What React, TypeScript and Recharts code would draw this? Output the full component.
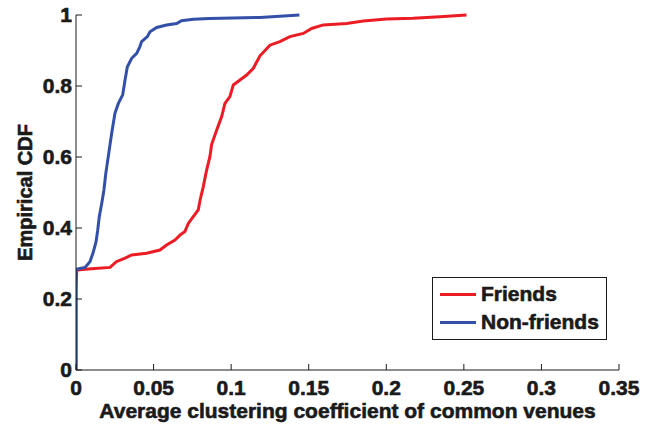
import { LineChart, Line, XAxis, YAxis, Legend } from "recharts";

// empirical CDF of the average clustering coefficient of common venues
const friendsCc = [
  0, 0, 0.0005, 0.01, 0.022, 0.026, 0.0316, 0.0359, 0.0455, 0.0541, 0.0584, 0.0638, 0.067,
  0.0702, 0.0724, 0.0756, 0.0788, 0.08, 0.082, 0.0842, 0.0863, 0.0874, 0.0907, 0.0939, 0.096,
  0.0992, 0.1014, 0.1057, 0.11, 0.1143, 0.1186, 0.125, 0.1314, 0.1379, 0.1465, 0.1519, 0.1594,
  0.1744, 0.1852, 0.2002, 0.2173, 0.2345, 0.2517,
];
const friendsCdf = [
  0, 0.23, 0.282, 0.285, 0.289, 0.305, 0.315, 0.324, 0.329, 0.338, 0.352, 0.366, 0.38,
  0.39, 0.413, 0.432, 0.451, 0.479, 0.516, 0.563, 0.601, 0.635, 0.676, 0.714, 0.751,
  0.77, 0.803, 0.817, 0.831, 0.85, 0.885, 0.915, 0.925, 0.939, 0.948, 0.962, 0.972,
  0.976, 0.983, 0.989, 0.991, 0.995, 1.0,
];

const nonFriendsCc = [
  0, 0, 0.0004, 0.0058, 0.009, 0.011, 0.0129, 0.014, 0.015, 0.0166, 0.018, 0.0192, 0.0208,
  0.023, 0.0251, 0.0273, 0.0301, 0.0316, 0.0331, 0.0359, 0.0391, 0.0412, 0.0423, 0.046, 0.0477,
  0.052, 0.0584, 0.0649, 0.068, 0.0756, 0.086, 0.1186, 0.144,
];
const nonFriendsCdf = [
  0, 0.28, 0.284, 0.289, 0.305, 0.33, 0.361, 0.394, 0.432, 0.47, 0.507, 0.554, 0.601,
  0.667, 0.723, 0.751, 0.775, 0.817, 0.854, 0.878, 0.892, 0.911, 0.925, 0.939, 0.953,
  0.965, 0.972, 0.976, 0.984, 0.988, 0.99, 0.993, 1.0,
];

const xTicks = [0, 0.05, 0.1, 0.15, 0.2, 0.25, 0.3, 0.35];
const yTicks = [0, 0.2, 0.4, 0.6, 0.8, 1];

const friends = friendsCc.map((x, i) => ({ x, y: friendsCdf[i] }));
const nonFriends = nonFriendsCc.map((x, i) => ({ x, y: nonFriendsCdf[i] }));

const FONT = "Liberation Sans";
const INK = "#1a1a1a";
const TICK = 6;

// bold text with a thin outline so it reads as heavy as the print version
const textStyle = {
  fontFamily: FONT,
  fontSize: 21,
  fontWeight: 700,
  fill: INK,
  stroke: INK,
  strokeWidth: 0.6,
};

const BottomTick = ({ x, y, payload }: any) => (
  <g>
    <line x1={x} x2={x} y1={y} y2={y - TICK} stroke={INK} />
    <text x={x} y={y + 25} textAnchor="middle" style={textStyle}>
      {String(payload.value)}
    </text>
  </g>
);

const TopTick = ({ x, y }: any) => <line x1={x} x2={x} y1={y} y2={y + TICK} stroke={INK} />;

const LeftTick = ({ x, y, payload }: any) => (
  <g>
    <line x1={x} x2={x + TICK} y1={y} y2={y} stroke={INK} />
    <text x={x - 4} y={y + 7} textAnchor="end" style={textStyle}>
      {String(payload.value)}
    </text>
  </g>
);

const RightTick = ({ x, y }: any) => <line x1={x} x2={x - TICK} y1={y} y2={y} stroke={INK} />;

const LegendBox = ({ payload }: any) => (
  <div
    style={{
      border: `1px solid ${INK}`,
      background: "#fff",
      width: 173,
      height: 57,
      boxSizing: "content-box",
      fontFamily: FONT,
      fontWeight: 700,
      fontSize: 21,
      color: INK,
      WebkitTextStroke: `0.6px ${INK}`,
      paddingTop: 2,
      paddingBottom: 2,
    }}
  >
    {(payload || []).map((p: any) => (
      <div key={p.value} style={{ display: "flex", alignItems: "center", height: 28 }}>
        <span style={{ display: "inline-block", width: 36, height: 3, background: p.color, marginLeft: 7, marginRight: 5 }} />
        <span>{p.value}</span>
      </div>
    ))}
  </div>
);

export default function App() {
  return (
    <div style={{ position: "absolute", left: 0, top: 0, background: "#fff" }}>
      <LineChart width={654} height={427} margin={{ top: 15, right: 35, bottom: 0, left: 0 }}>
        <XAxis
          xAxisId="bottom"
          dataKey="x"
          type="number"
          domain={[0, 0.35]}
          ticks={xTicks}
          allowDataOverflow
          height={57}
          stroke={INK}
          tickSize={0}
          tickMargin={0}
          tick={BottomTick}
          label={{
            value: "Average clustering coefficient of common venues",
            position: "insideBottom",
            offset: 9,
            style: textStyle,
          }}
        />
        <XAxis
          xAxisId="top"
          orientation="top"
          dataKey="x"
          type="number"
          domain={[0, 0.35]}
          ticks={xTicks}
          height={0}
          stroke={INK}
          tickSize={0}
          tickMargin={0}
          tick={TopTick}
        />
        <YAxis
          yAxisId="left"
          type="number"
          domain={[0, 1]}
          ticks={yTicks}
          width={76}
          stroke={INK}
          tickSize={0}
          tickMargin={0}
          tick={LeftTick}
          label={{
            value: "Empirical CDF",
            angle: -90,
            position: "insideLeft",
            offset: 25,
            style: { ...textStyle, fontSize: 20, textAnchor: "middle" },
          }}
        />
        <YAxis
          yAxisId="right"
          orientation="right"
          type="number"
          domain={[0, 1]}
          ticks={yTicks}
          width={0}
          stroke={INK}
          tickSize={0}
          tickMargin={0}
          tick={RightTick}
        />
        <Legend
          layout="vertical"
          align="center"
          verticalAlign="middle"
          content={LegendBox}
          wrapperStyle={{ position: "absolute", left: 432, top: 277, width: 175 }}
        />
        <Line
          xAxisId="bottom"
          yAxisId="left"
          data={friends}
          dataKey="y"
          name="Friends"
          type="linear"
          stroke="#ec1c24"
          strokeWidth={3}
          dot={false}
          activeDot={false}
          isAnimationActive={false}
        />
        <Line
          xAxisId="bottom"
          yAxisId="left"
          data={nonFriends}
          dataKey="y"
          name="Non-friends"
          type="linear"
          stroke="#3350a8"
          strokeWidth={3}
          dot={false}
          activeDot={false}
          isAnimationActive={false}
        />
      </LineChart>
    </div>
  );
}
